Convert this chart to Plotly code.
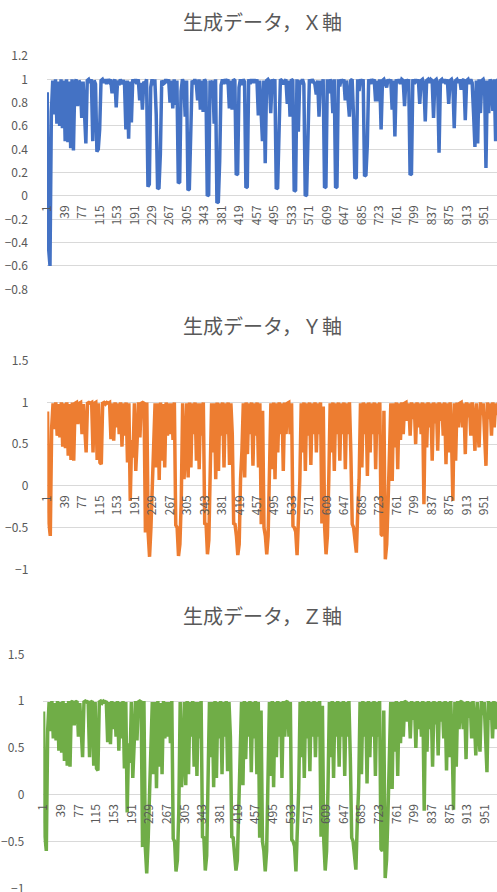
import plotly.graph_objects as go

W, H = 497, 892

# ---------------- data ----------------
categories = list(range(1, 1001, 3))

x_axis_pct = [
    89, -45, -60, 72, 99, 70, 100, 62, 98, 60,
    100, 58, 99, 47, 100, 46, 98, 41, 100, 39,
    97, 100, 77, 99, 96, 67, 98, 66, 45, 99,
    100, 97, 100, 47, 99, 96, 38, 40, 57, 99,
    100, 97, 100, 96, 100, 98, 100, 88, 97, 100,
    76, 99, 95, 100, 96, 99, 97, 57, 99, 49,
    98, 63, 100, 97, 100, 96, 100, 82, 97, 74,
    98, 96, 100, 8, 10, 93, 100, 95, 100, 70,
    6, 7, 36, 99, 96, 97, 100, 97, 100, 80,
    99, 75, 100, 78, 99, 11, 12, 90, 100, 97,
    68, 99, 5, 6, 44, 99, 96, 100, 97, 82,
    100, 74, 99, 72, 100, 98, 0, 1, 99, 93,
    99, 62, 100, -6, -5, 30, 95, 100, 96, 100,
    98, 100, 75, 99, 74, 100, 99, 18, 19, 93,
    100, 95, 100, 98, 7, 8, 100, 96, 100, 97,
    100, 97, 100, 69, 99, 68, 47, 99, 28, 99,
    100, 98, 71, 100, 97, 100, 6, 7, 45, 100,
    99, 96, 98, 100, 79, 99, 68, 100, 99, 4,
    5, 100, 55, 99, 96, 100, 96, 0, 1, 42,
    100, 97, 100, 98, 96, 87, 99, 68, 99, 91,
    100, 7, 8, 100, 88, 100, 97, 71, 100, 7,
    8, 100, 94, 100, 97, 100, 82, 99, 80, 68,
    99, 100, 68, 15, 16, 100, 90, 100, 97, 100,
    17, 18, 44, 100, 96, 100, 98, 100, 81, 99,
    81, 100, 57, 99, 100, 96, 93, 100, 97, 100,
    74, 99, 51, 100, 97, 100, 96, 100, 99, 77,
    100, 97, 100, 18, 19, 100, 96, 100, 97, 100,
    79, 99, 100, 96, 64, 99, 100, 97, 100, 99,
    67, 99, 100, 96, 37, 99, 100, 97, 100, 96,
    100, 79, 99, 100, 96, 58, 99, 100, 97, 100,
    91, 99, 100, 65, 99, 100, 96, 100, 97, 71,
    42, 99, 45, 100, 71, 99, 100, 96, 24, 99,
    71, 100, 97, 73, 100, 47, 99, 100, 96, 100,
    99, 100, 97, 100,
]

y_axis_pct = [
    89, -45, -60, 70, 99, 68, 100, 60, 98, 58,
    100, 47, 99, 45, 100, 36, 98, 31, 100, 30,
    99, 100, 74, 99, 100, 62, 98, 63, 40, 99,
    100, 99, 100, 40, 99, 100, 31, 99, 28, 26,
    99, 100, 98, 100, 99, 100, 56, 99, 54, 100,
    70, 99, 62, 100, 47, 99, 60, 100, 28, 99,
    -18, 55, 34, 99, 18, 54, 100, 58, 99, 100,
    99, -56, 100, -57, -85, -50, 4, 40, 99, 22,
    99, 7, 100, 30, 98, 22, 100, 60, 99, 62,
    99, 55, 100, -47, -50, -84, -70, -18, 99, 8,
    40, 99, 10, 100, 22, 99, 62, 100, 30, 99,
    20, 99, 60, 100, -45, -46, -82, -65, 5, 99,
    40, 99, 8, 100, 18, 99, 60, 100, 22, 99,
    62, 100, 25, 99, 62, -45, -46, -60, -83, -70,
    8, 42, 99, 10, 100, 38, 99, 62, 100, 24,
    99, 60, 100, 22, 99, -46, 90, -50, -60, -82,
    -60, 8, 99, 20, 100, 8, 99, 40, 100, 62,
    99, 18, 100, 62, 99, 100, 62, 99, -48, -50,
    -55, -83, -40, 6, 99, 40, 100, 18, 99, 60,
    100, 25, 99, 62, 100, 40, 99, 62, 100, -45,
    95, -50, -82, -60, 8, 99, 40, 100, 18, 99,
    62, 100, 30, 99, 62, 100, 20, 99, 62, 100,
    40, -46, -50, -62, -80, -30, 8, 99, 22, 100,
    62, 99, 12, 100, 40, 99, 62, 100, 20, 99,
    62, 100, -58, -60, 90, -88, -70, -20, 30, 99,
    6, 99, 46, 100, 20, 99, 55, 100, 62, 99,
    100, 78, 99, 60, 100, 80, 99, 50, 100, 70,
    99, 62, 100, -22, 99, 46, 100, 70, 99, 30,
    100, 75, 99, 42, 100, 78, 99, 60, 100, 26,
    99, 40, 100, 60, -18, 99, 30, 100, 70, 99,
    100, 70, 99, 38, 100, 82, 99, 60, 100, 80,
    42, 99, 70, 46, 100, 85, 99, 70, 24, 100,
    80, 99, 60, 100, 70, 99, 85, 100, 80, 99,
    70, 99, 88, 100,
]

z_axis_pct = [
    89, -45, -60, 70, 99, 68, 100, 60, 98, 58,
    100, 47, 99, 45, 100, 36, 98, 31, 100, 30,
    99, 100, 74, 99, 100, 62, 98, 63, 40, 99,
    100, 99, 100, 40, 99, 100, 31, 99, 28, 26,
    99, 100, 98, 100, 99, 100, 56, 99, 54, 100,
    70, 99, 62, 100, 47, 99, 60, 100, 28, 99,
    -19, 55, 34, 99, 18, 54, 100, 58, 99, 100,
    99, -56, 100, -57, -84, -50, 4, 40, 99, 22,
    99, 7, 100, 30, 98, 22, 100, 60, 99, 62,
    99, 55, 100, -47, -50, -82, -70, -18, 99, 8,
    40, 99, 10, 100, 22, 99, 62, 100, 30, 99,
    20, 99, 60, 100, -45, -46, -81, -65, 5, 99,
    40, 99, 8, 100, 18, 99, 60, 100, 22, 99,
    62, 100, 25, 99, 62, -45, -46, -60, -81, -70,
    8, 42, 99, 10, 100, 38, 99, 62, 100, 24,
    99, 60, 100, 22, 99, -46, 90, -50, -60, -82,
    -60, 8, 99, 20, 100, 8, 99, 40, 100, 62,
    99, 18, 100, 62, 99, 100, 62, 99, -48, -50,
    -55, -82, -40, 6, 99, 40, 100, 18, 99, 60,
    100, 25, 99, 62, 100, 40, 99, 62, 100, -45,
    95, -50, -81, -60, 8, 99, 40, 100, 18, 99,
    62, 100, 30, 99, 62, 100, 20, 99, 62, 100,
    40, -46, -50, -62, -80, -30, 8, 99, 22, 100,
    62, 99, 12, 100, 40, 99, 62, 100, 20, 99,
    62, 100, -58, -60, 90, -89, -70, -20, 30, 99,
    6, 99, 46, 100, 20, 99, 55, 100, 62, 99,
    100, 78, 99, 60, 100, 80, 99, 50, 100, 70,
    99, 62, 100, -17, 99, 46, 100, 70, 99, 30,
    100, 75, 99, 42, 100, 78, 99, 60, 100, 26,
    99, 40, 100, 60, -16, 99, 30, 100, 70, 99,
    100, 70, 99, 38, 100, 82, 99, 60, 100, 80,
    42, 99, 70, 46, 100, 85, 99, 70, 24, 100,
    80, 99, 60, 100, 70, 99, 85, 100, 80, 99,
    70, 99, 88, 100,
]

tick_categories = [1, 39, 77, 115, 153, 191, 229, 267, 305, 343, 381, 419, 457,
                   495, 533, 571, 609, 647, 685, 723, 761, 799, 837, 875, 913, 951, 989]
tick_labels = [str(c) for c in tick_categories]

titles = ["生成データ，Ｘ軸", "生成データ，Ｙ軸", "生成データ，Ｚ軸"]

y1_ticks = [-0.8, -0.6, -0.4, -0.2, 0, 0.2, 0.4, 0.6, 0.8, 1, 1.2]
y1_labels = ["−0.8", "−0.6", "−0.4", "−0.2", "0", "0.2", "0.4", "0.6", "0.8", "1", "1.2"]
y23_ticks = [-1, -0.5, 0, 0.5, 1, 1.5]
y23_labels = ["−1", "−0.5", "0", "0.5", "1", "1.5"]

# ---------------- styling / layout ----------------
colors = ["#4472C4", "#ED7D31", "#70AD47"]
TEXT = "#595959"
GRID = "#D9D9D9"
FONT = "Noto Sans CJK JP"
LINE_W = 3.5

panels = [
    dict(left=47.0, top=56.0, bottom=289.3, xmax=979.0, ymin=-0.8, ymax=1.2,
         ticks=y1_ticks, labels=y1_labels, title_y=21.5),
    dict(left=47.3, top=360.7, bottom=569.3, xmax=979.0, ymin=-1.0, ymax=1.5,
         ticks=y23_ticks, labels=y23_labels, title_y=325.5),
    dict(left=43.3, top=654.3, bottom=888.3, xmax=976.6, ymin=-1.0, ymax=1.5,
         ticks=y23_ticks, labels=y23_labels, title_y=615.5),
]
series = [x_axis_pct, y_axis_pct, z_axis_pct]

fig = go.Figure()
layout = {}
annotations = []
for k, (vals, p) in enumerate(zip(series, panels)):
    n = k + 1
    xa = "x" if n == 1 else f"x{n}"
    ya = "y" if n == 1 else f"y{n}"
    fig.add_trace(go.Scatter(
        x=categories, y=[v / 100 for v in vals], mode="lines",
        line=dict(color=colors[k], width=LINE_W),
        xaxis=xa, yaxis=ya, showlegend=False, hoverinfo="skip",
    ))
    dom_y = [1 - p["bottom"] / H, 1 - p["top"] / H]
    zero_pos = dom_y[0] + (0 - p["ymin"]) / (p["ymax"] - p["ymin"]) * (dom_y[1] - dom_y[0])
    xkey = "xaxis" if n == 1 else f"xaxis{n}"
    ykey = "yaxis" if n == 1 else f"yaxis{n}"
    layout[xkey] = dict(
        domain=[p["left"] / W, 1.0], range=[0.5, p["xmax"]],
        anchor="free", position=zero_pos,
        tickmode="array", tickvals=tick_categories, ticktext=tick_labels,
        tickangle=-90, ticks="", ticklabelstandoff=6, ticklabeloverflow="allow",
        showgrid=False, zeroline=False, showline=False,
        tickfont=dict(family=FONT, size=12, color=TEXT),
        automargin=False, fixedrange=True,
    )
    layout[ykey] = dict(
        domain=dom_y, range=[p["ymin"], p["ymax"]], anchor=xa,
        tickmode="array", tickvals=p["ticks"], ticktext=p["labels"],
        ticks="", ticklabelstandoff=18, ticklabeloverflow="allow",
        showgrid=True, gridcolor=GRID, gridwidth=1,
        zeroline=False, showline=False,
        tickfont=dict(family=FONT, size=12, color=TEXT),
        automargin=False, fixedrange=True,
    )
    annotations.append(dict(
        text=titles[k], xref="paper", yref="paper",
        x=262.5 / W, y=1 - p["title_y"] / H,
        xanchor="center", yanchor="middle", showarrow=False,
        font=dict(family=FONT, size=20, color=TEXT),
    ))

fig.update_layout(
    width=W, height=H,
    margin=dict(l=0, r=0, t=0, b=0),
    paper_bgcolor="white", plot_bgcolor="white",
    annotations=annotations,
    **layout,
)

fig.write_html(
    "out.html",
    config={"displayModeBar": False},
    post_script="document.body.style.margin='0';document.body.style.overflow='hidden';",
)
